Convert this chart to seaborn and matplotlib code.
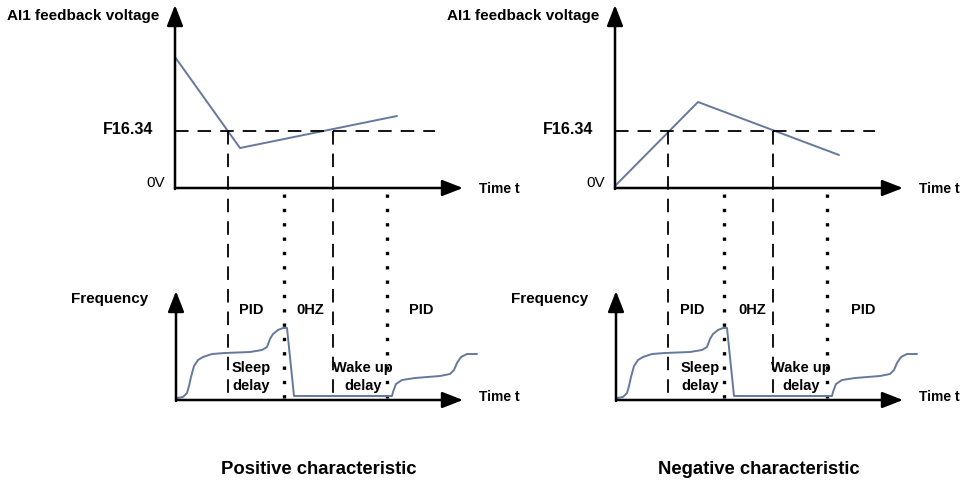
import numpy as np
import pandas as pd
import seaborn as sns
import matplotlib.pyplot as plt

sns.set_style('white')
plt.rcParams['font.family'] = ['Liberation Sans', 'DejaVu Sans']
plt.rcParams['text.color'] = 'black'

# feedback voltage (time, level above 0V), one per characteristic
pos_volt_t = [0, 65, 222]
pos_volt_v = [131, 40, 72]
neg_volt_t = [0, 83, 224]
neg_volt_v = [2, 86, 33]
setpoint = 57          # F16.34 level

# phase boundaries on the time axis
cross_t = [53, 158]    # feedback crosses F16.34
delay_t = [109, 212]   # end of sleep delay / end of wake up delay

# output frequency (same for both characteristics)
freq_t = [1, 7, 11, 13, 15, 18, 22, 27, 36, 49, 74, 86, 91, 94, 97, 102, 107, 111,
          118, 216, 217, 220, 226, 239, 264, 274, 278, 281, 285, 291, 301]
freq_f = [2, 3, 7, 14, 23, 34, 40, 43, 46, 47, 48, 50, 53, 61, 66, 70, 72, 72,
          4, 4, 8, 16, 20, 22, 24, 26, 30, 37, 43, 46, 46]

phase_labels = ['PID', '0HZ', 'PID']
delay_labels = ['Sleep\ndelay', 'Wake up\ndelay']
titles = ['Positive characteristic', 'Negative characteristic']

curve = '#66789c'

fig = plt.figure(figsize=(9.72, 4.8), dpi=100)
ax = fig.add_axes([0, 0, 1, 1])
ax.set_xlim(0, 972)
ax.set_ylim(480, 0)
ax.axis('off')


def arrow(x0, y0, x1, y1):
    ax.annotate('', xy=(x1, y1), xytext=(x0, y0),
                arrowprops=dict(arrowstyle='-|>,head_length=0.9,head_width=0.35',
                                lw=1.8, color='black', mutation_scale=14,
                                shrinkA=0, shrinkB=0))


def panel(x0, vt, vv, title, phase_x, delay_x):
    uy = 188   # 0V axis
    ly = 400   # frequency axis
    # axes
    arrow(x0, uy + 1, x0, 5)
    arrow(x0, uy, x0 + 288, uy)
    arrow(x0 + 1, ly + 1, x0 + 1, 291)
    arrow(x0 + 1, ly, x0 + 288, ly)

    # voltage curve
    dv = pd.DataFrame({'x': x0 + np.array(vt), 'y': uy - np.array(vv)})
    sns.lineplot(data=dv, x='x', y='y', ax=ax, color=curve, lw=1.4, sort=False,
                 estimator=None)
    # set point line
    ax.plot([x0, x0 + 260], [uy - setpoint] * 2, color='black', lw=1.3,
            ls=(0, (7.5, 5)))
    for t in cross_t:
        ax.plot([x0 + t, x0 + t], [uy - setpoint, ly - 2], color='black', lw=1.3,
                ls=(0, (7.5, 5)))
    for t in delay_t:
        ax.plot([x0 + t, x0 + t], [uy + 6, ly], color='black', lw=2.4,
                ls=(0, (1, 3.3)), dash_capstyle='butt')

    # frequency curve
    df = pd.DataFrame({'x': x0 + 1 + np.array(freq_t), 'y': ly - np.array(freq_f)})
    sns.lineplot(data=df, x='x', y='y', ax=ax, color=curve, lw=1.4, sort=False,
                 estimator=None)

    bold = dict(fontweight='bold', va='center')
    ax.text(x0 - 168, 16, 'AI1 feedback voltage', ha='left', fontsize=11, **bold)
    ax.text(x0 - 22, 130, 'F16.34', ha='right', fontsize=11.5, **bold)
    ax.text(x0 - 10, 183, '0V', ha='right', va='center', fontsize=11)
    ax.text(x0 + 304, 189, 'Time t', ha='left', fontsize=10, **bold)
    ax.text(x0 + 304, 397, 'Time t', ha='left', fontsize=10, **bold)
    ax.text(x0 - 27, 299, 'Frequency', ha='right', fontsize=11, **bold)
    for lab, px in zip(phase_labels, phase_x):
        ax.text(x0 + px, 310, lab, ha='center', fontsize=10.5, **bold)
    for lab, px in zip(delay_labels, delay_x):
        ax.text(x0 + px, 377, lab, ha='center', linespacing=1.3, fontsize=10.5,
                **bold)
    ax.text(x0 + 144, 469, title, ha='center', fontsize=13.3, fontweight='bold',
            va='center')


panel(175, pos_volt_t, pos_volt_v, titles[0], [76, 135, 246], [76, 188])
panel(615, neg_volt_t, neg_volt_v, titles[1], [77, 137, 248], [85, 186])

fig.savefig('out.png', dpi=100)
